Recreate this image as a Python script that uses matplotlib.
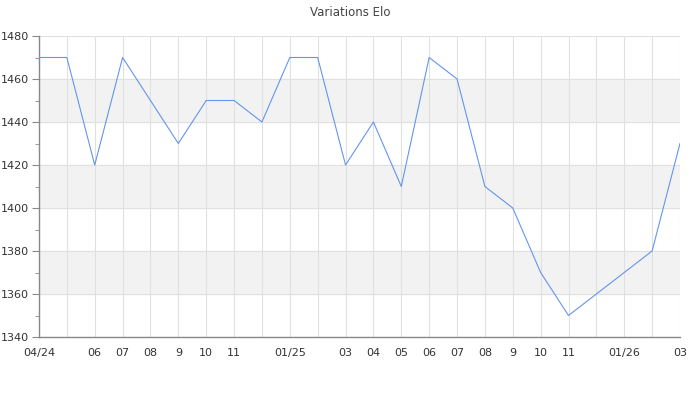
import numpy as np
import matplotlib
matplotlib.use("Agg")
import matplotlib.pyplot as plt
from matplotlib.ticker import MultipleLocator

# Elo mensile, da 04/24 a 03/26 (None = mese senza partite)
months = ["04/24", "05", "06", "07", "08", "9", "10", "11", "12",
          "01/25", "02", "03", "04", "05", "06", "07", "08", "9", "10", "11", "12",
          "01/26", "02", "03"]
shown = ["04/24", "", "06", "07", "08", "9", "10", "11", "",
         "01/25", "", "03", "04", "05", "06", "07", "08", "9", "10", "11", "",
         "01/26", "", "03"]
elo = [1470, 1470, 1420, 1470, 1450, 1430, 1450, 1450, 1440,
       1470, 1470, 1420, 1440, 1410, 1470, 1460, 1410, 1400, 1370, 1350, None,
       None, 1380, 1430]

x = np.arange(len(months))
y = np.array([np.nan if v is None else v for v in elo], dtype=float)
ok = ~np.isnan(y)

fig = plt.figure(figsize=(7, 4), dpi=100)
ax = fig.add_axes([0.0557, 0.1575, 0.9157, 0.7525])

# bande alternate
for lo in (1360, 1400, 1440):
    ax.axhspan(lo, lo + 20, color="#f2f2f2", zorder=0)

ax.plot(x[ok], y[ok], color="#6495ed", lw=0.8, zorder=3)

ax.set_xlim(0, len(months) - 1)
ax.set_ylim(1340, 1480)
ax.set_xticks(x)
ax.set_xticklabels(shown)
ax.yaxis.set_major_locator(MultipleLocator(20))
ax.yaxis.set_minor_locator(MultipleLocator(10))

ax.grid(True, which="major", color="#e0e0e0", lw=0.8, zorder=1)
ax.set_axisbelow(True)
for s in ("top", "right"):
    ax.spines[s].set_visible(False)
for s in ("left", "bottom"):
    ax.spines[s].set_color("#888888")
    ax.spines[s].set_linewidth(1.0)

ax.tick_params(axis="x", length=0, pad=8, labelsize=8, labelcolor="#333333")
ax.tick_params(axis="y", which="major", length=5, color="#888888",
               labelsize=8, labelcolor="#333333", pad=2)
ax.tick_params(axis="y", which="minor", length=3, color="#888888")

fig.suptitle("Variations Elo", y=0.985, fontsize=8.5, color="#444444")
fig.savefig("out.png", dpi=100)
